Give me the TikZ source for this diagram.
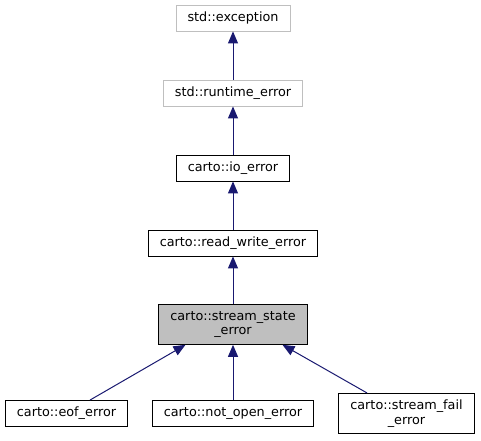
\documentclass[tikz,border=0pt]{standalone}
\usepackage{fontspec}
\setmainfont{DejaVu Sans}
\usetikzlibrary{arrows.meta,positioning}
\definecolor{edgeblue}{HTML}{191970}
\definecolor{boxgray}{HTML}{BFBFBF}

\begin{document}
\begin{tikzpicture}[x=1pt, y=-1pt]
			\tikzstyle{Class}	= [rectangle, draw, fill=white, line width=0.9pt, align=center, inner xsep=11.5pt, inner ysep=6.5pt, minimum height=26pt, font=\fontsize{12.8}{14.5}\selectfont]
			\tikzstyle{Extern}	= [draw=boxgray]
			\tikzstyle{Current}	= [fill=boxgray, line width=1.1pt]
			\tikzstyle{Inherit}	= [edgeblue, line width=1pt, -{Triangle[length=12pt, width=10pt]}]

			\useasboundingbox (0, 0) rectangle (481, 440);

			\node (exc) at (233, 18.0) [Class][Extern] {std::exception};
			\node (rt) at (233, 93.0) [Class][Extern] {std::runtime\_error};
			\node (io) at (233, 168.0) [Class] {carto::io\_error};
			\node (rw) at (233, 243.0) [Class] {carto::read\_write\_error};
			\node (st) at (233, 324.5) [Class][Current] {carto::stream\_state\\\_error};
			\node (eof) at (66.5, 413.5) [Class] {carto::eof\_error};
			\node (nop) at (233, 413.5) [Class] {carto::not\_open\_error};
			\node (fail) at (406.5, 413.5) [Class] {carto::stream\_fail\\\_error};

			\draw [Inherit] (rt) to (exc);
			\draw [Inherit] (io) to (rt);
			\draw [Inherit] (rw) to (io);
			\draw [Inherit] (st) to (rw);
			\draw [Inherit] ([xshift=23.5pt]eof.north) to ([xshift=-47.5pt]st.south);
			\draw [Inherit] (nop) to (st);
			\draw [Inherit] ([xshift=-39.5pt]fail.north) to ([xshift=49.5pt]st.south);
		\end{tikzpicture}
\end{document}
